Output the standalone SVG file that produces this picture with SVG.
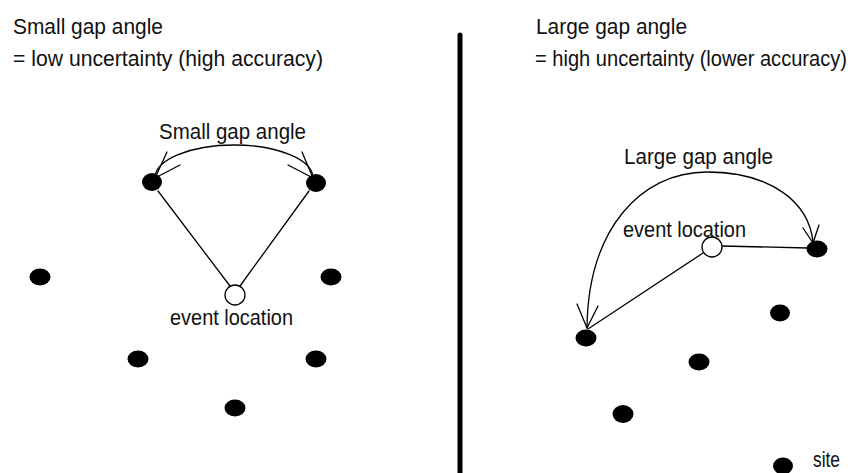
<svg xmlns="http://www.w3.org/2000/svg" width="859" height="473" viewBox="0 0 859 473">
<style>
  text { font-family: "Liberation Sans", Arial, sans-serif; font-size: 22px; fill: #111; }
  .site { fill: #000; }
  .event { fill: #fff; stroke: #000; stroke-width: 1.3; }
  .ln { fill: none; stroke: #000; stroke-width: 1.3; stroke-linecap: round; stroke-linejoin: round; }
  .divider { stroke: #000; stroke-width: 5; stroke-linecap: round; }
</style>
<rect width="859" height="473" fill="#fff"/>

<g id="titles">
  <text x="13" y="34" textLength="150" lengthAdjust="spacingAndGlyphs">Small gap angle</text>
  <text x="13" y="66" textLength="310" lengthAdjust="spacingAndGlyphs">= low uncertainty (high accuracy)</text>
  <text x="536" y="34" textLength="151" lengthAdjust="spacingAndGlyphs">Large gap angle</text>
  <text x="535" y="66" textLength="312" lengthAdjust="spacingAndGlyphs">= high uncertainty (lower accuracy)</text>
</g>

<line id="divider" class="divider" x1="460" y1="35" x2="460" y2="480"/>

<g id="connectors">
  <!-- left panel -->
  <line class="ln" x1="158" y1="191" x2="230" y2="286"/>
  <line class="ln" x1="309" y1="191" x2="240" y2="286"/>
  <path class="ln" d="M155,178 A79,33 0 0 1 313,178"/>
  <path class="ln" d="M167,152 L155,178 L180,165"/>
  <path class="ln" d="M302,152 L313,178 L288,165"/>
  <!-- right panel -->
  <line class="ln" x1="722" y1="246" x2="808" y2="248"/>
  <line class="ln" x1="703" y1="253" x2="588" y2="329"/>
  <path class="ln" d="M587,328 C588,230 640,172 707,172 C772,172 809,203 813,242"/>
  <path class="ln" d="M577,304 L587,328 L598,306"/>
  <path class="ln" d="M803,228 L813,243 L819,225"/>
</g>

<g id="left-site-top-left"><ellipse class="site" cx="152" cy="182" rx="10" ry="9"/></g>
<g id="left-site-top-right"><ellipse class="site" cx="316" cy="183" rx="10" ry="9"/></g>
<g id="left-site-mid-left"><ellipse class="site" cx="40" cy="277" rx="10.5" ry="8.5"/></g>
<g id="left-site-mid-right"><ellipse class="site" cx="331" cy="277" rx="10.5" ry="8.5"/></g>
<g id="left-site-low-left"><ellipse class="site" cx="138" cy="359" rx="10.5" ry="8.5"/></g>
<g id="left-site-low-right"><ellipse class="site" cx="316" cy="359" rx="10.5" ry="8.5"/></g>
<g id="left-site-bottom"><ellipse class="site" cx="235" cy="408" rx="10.5" ry="8.5"/></g>
<g id="left-event">
  <circle class="event" cx="235" cy="295" r="10"/>
  <text x="170" y="325" textLength="123" lengthAdjust="spacingAndGlyphs">event location</text>
</g>
<g id="left-gap-label">
  <text x="159" y="139" textLength="147" lengthAdjust="spacingAndGlyphs">Small gap angle</text>
</g>

<g id="right-site-arc-right"><ellipse class="site" cx="817" cy="249" rx="10.5" ry="8.5"/></g>
<g id="right-site-arc-left"><ellipse class="site" cx="586" cy="338" rx="10.5" ry="8.5"/></g>
<g id="right-site-a"><ellipse class="site" cx="780" cy="313" rx="10" ry="8.5"/></g>
<g id="right-site-b"><ellipse class="site" cx="699" cy="362" rx="10.5" ry="8.5"/></g>
<g id="right-site-c"><ellipse class="site" cx="623" cy="414" rx="10.5" ry="9"/></g>
<g id="right-event">
  <circle class="event" cx="712" cy="247" r="10"/>
  <text x="623" y="237" textLength="123" lengthAdjust="spacingAndGlyphs">event location</text>
</g>
<g id="right-gap-label">
  <text x="624" y="164" textLength="149" lengthAdjust="spacingAndGlyphs">Large gap angle</text>
</g>
<g id="legend-site">
  <ellipse class="site" cx="783" cy="466" rx="10" ry="8.5"/>
  <text x="813" y="467" textLength="27" lengthAdjust="spacingAndGlyphs">site</text>
</g>
</svg>
